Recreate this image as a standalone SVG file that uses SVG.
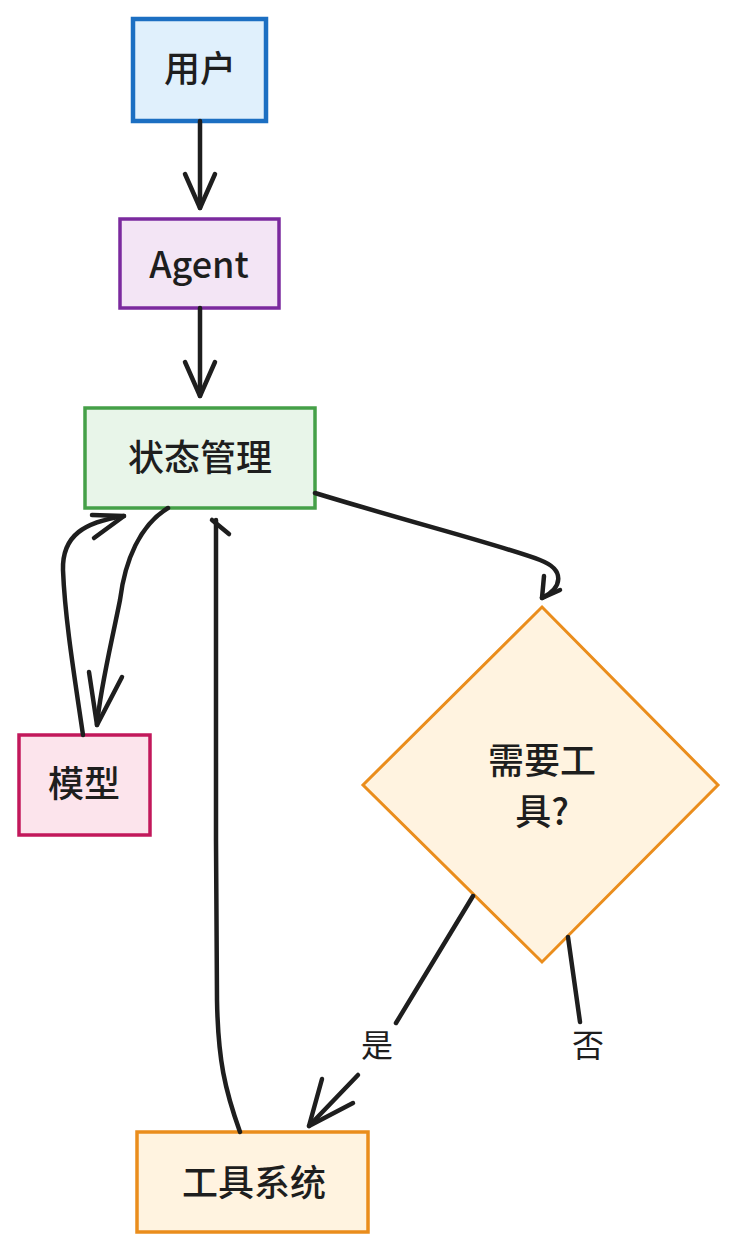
<svg xmlns="http://www.w3.org/2000/svg" width="738" height="1252" viewBox="0 0 738 1252">
<defs>
<style>
.lbl{font-family:"Noto Sans CJK SC","Liberation Sans",sans-serif;font-size:36px;fill:#1e1e1e;text-anchor:middle;dominant-baseline:central;font-weight:500}
.edge{fill:none;stroke:#1e1e1e;stroke-width:4.5;stroke-linecap:round;stroke-linejoin:round}
.elbl{font-family:"Noto Sans CJK SC","Liberation Sans",sans-serif;font-size:32px;fill:#1e1e1e;text-anchor:middle;dominant-baseline:central}
</style>
</defs>
<rect width="738" height="1252" fill="#ffffff"/>
<g id="user">
<rect x="133" y="19" width="133" height="102" fill="#e0f0fc" stroke="#1c6fc2" stroke-width="4.5"/>
<text class="lbl" x="200" y="66">用户</text>
</g>
<g id="agent">
<rect x="120" y="219" width="159" height="89" fill="#f3e5f5" stroke="#7b2a9e" stroke-width="3.5"/>
<text class="lbl" x="199" y="262" font-size="34">Agent</text>
</g>
<g id="state">
<rect x="85" y="408" width="230" height="100" fill="#e8f5e9" stroke="#45a048" stroke-width="3.5"/>
<text class="lbl" x="200" y="455">状态管理</text>
</g>
<g id="model">
<rect x="19" y="735" width="131" height="100" fill="#fce4ec" stroke="#c2185b" stroke-width="3.5"/>
<text class="lbl" x="84" y="781">模型</text>
</g>
<g id="decision">
<polygon points="542,607 718,785 542,962 363,785" fill="#fff3e0" stroke="#ea8d1c" stroke-width="3"/>
<text class="lbl" x="542" y="758">需要工</text>
<text class="lbl" x="542" y="809">具?</text>
</g>
<g id="tools">
<rect x="137" y="1132" width="231" height="100" fill="#fff3e0" stroke="#ea8d1c" stroke-width="3.5"/>
<text class="lbl" x="254" y="1180">工具系统</text>
</g>
<g id="connectors">
<path class="edge" d="M200,121 L200,208"/>
<path class="edge" d="M185,174 L200,208 L215,174"/>
<path class="edge" d="M200,308 L200,396"/>
<path class="edge" d="M185,362 L200,396 L215,362"/>
<path class="edge" d="M315,493 C420,525 500,545 540,560 C566,570 562,588 542,598"/>
<path class="edge" d="M544,576 L542,598 L560,590"/>
<path class="edge" d="M168,508 C140,525 125,560 120,600 C110,650 100,690 97,725"/>
<path class="edge" d="M89,672 L97,725 L122,677"/>
<path class="edge" d="M83,735 C75,680 65,620 63,570 C62,535 85,522 124,516"/>
<path class="edge" d="M92,515 L124,516 L94,538"/>
<path class="edge" d="M240,1132 C225,1090 218,1060 217,1000 L216,840 C216,720 216,620 216,520"/>
<path class="edge" d="M212,520 L229,534"/>
<path class="edge" d="M473,896 L396,1023"/>
<path class="edge" d="M358,1075 L309,1126"/>
<path class="edge" d="M322,1079 L309,1126 L353,1103"/>
<path class="edge" d="M568,937 L580,1022"/>
<text class="elbl" x="377" y="1043">是</text>
<text class="elbl" x="588" y="1043">否</text>
</g>
</svg>
